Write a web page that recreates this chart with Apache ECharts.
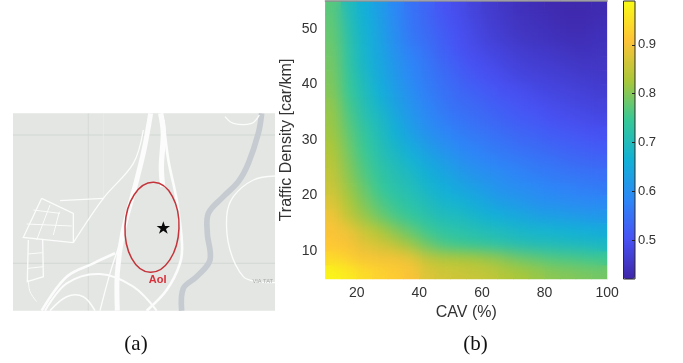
<!DOCTYPE html>
<html><head><meta charset="utf-8">
<style>html,body{margin:0;padding:0;background:#fff}#c{width:683px;height:363px}</style>
<script src="https://cdn.jsdelivr.net/npm/echarts@6/dist/echarts.min.js"></script>
</head><body><div id="c"></div>
<script>
const cavBands=['12.5','17.5','22.5','27.5','32.5','37.5','42.5','47.5','52.5','57.5','62.5','67.5','72.5','77.5','82.5','87.5','92.5','97.5'];
const densityBands=['6.25','8.75','11.25','13.75','16.25','18.75','21.25','23.75','26.25','28.75','31.25','33.75','36.25','38.75','41.25','43.75','46.25','48.75','51.25','53.75'];
const values=[
[.98,.965,.945,.93,.92,.905,.875,.865,.86,.855,.85,.835,.825,.815,.805,.80,.795,.79],
[.94,.925,.905,.90,.90,.885,.85,.835,.83,.825,.815,.80,.785,.775,.765,.76,.755,.75],
[.915,.905,.88,.865,.845,.815,.785,.76,.75,.74,.73,.72,.71,.705,.70,.695,.69,.685],
[.905,.89,.855,.83,.80,.775,.75,.73,.72,.71,.70,.69,.68,.675,.67,.665,.66,.655],
[.895,.85,.815,.785,.76,.74,.72,.70,.695,.68,.665,.655,.645,.635,.63,.625,.62,.615],
[.875,.83,.795,.765,.74,.72,.70,.68,.67,.655,.64,.625,.615,.605,.60,.595,.59,.59],
[.86,.815,.78,.745,.72,.705,.68,.66,.645,.63,.615,.60,.595,.59,.58,.575,.57,.565],
[.85,.805,.765,.735,.71,.69,.665,.645,.625,.61,.60,.59,.58,.57,.565,.56,.555,.55],
[.84,.795,.755,.72,.695,.67,.645,.625,.605,.59,.58,.57,.565,.555,.55,.54,.535,.53],
[.83,.785,.745,.71,.68,.65,.625,.605,.585,.575,.565,.555,.545,.54,.53,.525,.52,.515],
[.82,.775,.735,.70,.665,.63,.605,.585,.57,.56,.55,.54,.53,.525,.515,.51,.505,.50],
[.815,.765,.72,.69,.65,.615,.59,.57,.555,.545,.535,.525,.515,.51,.50,.495,.49,.485],
[.81,.755,.71,.675,.635,.605,.58,.56,.545,.535,.525,.515,.505,.50,.49,.485,.48,.475],
[.80,.745,.70,.66,.625,.595,.57,.55,.535,.525,.51,.50,.495,.485,.48,.475,.47,.465],
[.795,.74,.69,.65,.615,.585,.565,.545,.525,.51,.50,.49,.48,.475,.47,.465,.46,.455],
[.79,.73,.68,.645,.61,.58,.56,.535,.515,.50,.49,.48,.47,.465,.46,.455,.45,.45],
[.785,.725,.675,.64,.60,.57,.55,.525,.505,.49,.48,.47,.46,.455,.45,.445,.44,.445],
[.78,.72,.67,.635,.595,.56,.54,.52,.50,.485,.47,.46,.45,.445,.44,.435,.435,.44],
[.775,.71,.665,.63,.59,.555,.535,.51,.495,.48,.465,.455,.445,.44,.435,.43,.43,.435],
[.77,.70,.66,.625,.585,.55,.53,.505,.49,.475,.46,.45,.44,.435,.43,.425,.425,.43]
];
const colorbarTicks=[.5,.6,.7,.8,.9];
const parula=['#3e26a8','#4852f4','#2d87f7','#12b1d6','#37c897','#abc739','#fec338','#f9fb15'];

const cells=[];
values.forEach((row,j)=>row.forEach((v,i)=>cells.push([i,j,v])));

const sans='"Liberation Sans",Arial,sans-serif', ink='#333';
const road=(pts,w,c)=>({type:'polyline',shape:{points:pts,smooth:.35},style:{stroke:c||'#fbfcfb',lineWidth:w,fill:null,lineCap:'butt'}});
const line=(pts,w,c)=>({type:'polyline',shape:{points:pts},style:{stroke:c||'#fbfcfb',lineWidth:w,fill:null}});

const mapParts=[
 {type:'rect',shape:{x:39,y:40,width:786,height:592},style:{fill:'#e3e6e3'}},
 line([[39,105],[825,105]],2,'#ccd1cd'),line([[39,490],[825,490]],2,'#ccd1cd'),
 line([[265,40],[265,632]],2,'#d0d5d1'),line([[310,40],[310,300]],2,'#eceeec'),
 road([[785,40],[775,100],[745,190],[715,245],[670,290],[625,340],[622,400],[630,480],[590,530],[550,565],[545,632]],17,'#c6cbd1'),
 road([[825,228],[760,240],[700,290],[680,350],[690,450],[730,530],[770,545],[825,548]],4),
 road([[675,50],[700,70],[755,70],[778,45]],4),
 road([[452,40],[432,150],[405,260],[368,400],[352,520],[352,632]],15),
 road([[482,40],[490,100],[484,200],[488,260]],16),
 road([[490,60],[505,180],[530,300],[546,430],[540,490],[500,570],[440,632]],8),
 road([[430,90],[400,190],[310,295],[220,428]],4),
 line([[180,302],[310,295]],4),
 road([[360,430],[330,520],[300,632]],4),
 road([[345,460],[280,490],[200,530],[125,632]],8),
 road([[135,632],[200,550],[300,522],[400,560],[470,632]],6),
 road([[150,632],[200,590],[250,590],[285,632]],5),
 line([[125,295],[70,412],[220,428]],4),line([[125,295],[220,340],[220,428]],4),
 line([[100,330],[180,340]],3),line([[80,372],[215,378]],3),line([[150,315],[110,420]],3),line([[178,335],[160,405]],3),
 line([[85,420],[82,545],[130,530],[128,420]],4),line([[84,462],[128,458]],3),line([[84,505],[130,500]],3),
 road([[85,540],[90,575],[110,605]],3),
 {type:'ellipse',shape:{cx:456,cy:382,rx:81,ry:135},rotation:-0.04,originX:456,originY:382,style:{stroke:'#c5343a',lineWidth:4.5,fill:null}},
 {type:'polygon',shape:{points:[[490,364],[495,378],[510,378],[498,387],[503,401],[490,392],[477,401],[482,387],[470,378],[485,378]]},style:{fill:'#0a0a0a'}},
 {type:'text',x:445,y:432,rotation:1.24,originX:445,originY:432,style:{text:'SVINCOLO VIA RUBATTINO',font:'28px '+sans,fill:'#9c9f9d',textAlign:'center',textVerticalAlign:'middle'}},
 {type:'text',x:473,y:541,style:{text:'AoI',font:'bold 33px '+sans,fill:'#d8303a',textAlign:'center',textVerticalAlign:'middle'}},
 {type:'text',x:788,y:543,style:{text:'VIA TAT',font:'17px '+sans,fill:'#a8aba9',textAlign:'center',textVerticalAlign:'middle'}}
];

const chart=echarts.init(document.getElementById('c'));
chart.setOption({
 animation:false,backgroundColor:'#fff',
 grid:[
  {left:325.4,top:1,width:281.8,height:278,zlevel:2},
  {left:623.5,top:1,width:11.5,height:278,zlevel:2,show:true,borderColor:'#2a2a2a',borderWidth:1,backgroundColor:'transparent'}
 ],
 xAxis:[
  {type:'category',data:cavBands,gridIndex:0,position:'top',zlevel:2,axisLine:{onZero:false,lineStyle:{color:'#8f8f8f',width:1.5}},axisTick:{show:false},axisLabel:{show:false},splitLine:{show:false}},
  {type:'value',min:10,max:100,interval:20,gridIndex:0,position:'bottom',zlevel:2,
   axisLine:{show:false,onZero:false},axisTick:{show:false},splitLine:{show:false},
   axisLabel:{customValues:[20,40,60,80,100],color:ink,fontFamily:sans,fontSize:14,margin:7},
   name:'CAV (%)',nameLocation:'middle',nameGap:24,nameTextStyle:{color:ink,fontFamily:sans,fontSize:16}},
  {type:'value',gridIndex:1,min:0,max:1,show:false}
 ],
 yAxis:[
  {type:'category',data:densityBands,gridIndex:0,position:'right',zlevel:2,axisLine:{onZero:false,lineStyle:{color:'#e4e4e4'}},axisTick:{show:false},axisLabel:{show:false},splitLine:{show:false}},
  {type:'value',min:5,max:55,gridIndex:0,position:'left',zlevel:2,
   axisLine:{show:false,onZero:false},axisTick:{show:false},splitLine:{show:false},
   axisLabel:{customValues:[10,20,30,40,50],color:ink,fontFamily:sans,fontSize:14,margin:8},
   name:'Traffic Density [car/km]',nameLocation:'middle',nameGap:31,nameTextStyle:{color:ink,fontFamily:sans,fontSize:16}},
  {type:'value',min:.42,max:.99,gridIndex:1,position:'right',zlevel:2,
   axisLine:{show:false,onZero:false},splitLine:{show:false},
   axisTick:{show:true,inside:true,length:3,customValues:colorbarTicks,lineStyle:{color:'#222'}},
   axisLabel:{customValues:colorbarTicks,formatter:v=>v.toFixed(1),color:ink,fontFamily:sans,fontSize:13,margin:3}}
 ],
 visualMap:{type:'continuous',min:.42,max:.99,seriesIndex:[0,1],calculable:false,show:true,left:623.5,top:1,padding:0,itemWidth:11.5,itemHeight:278,text:['',''],showLabel:false,inRange:{color:parula},hoverLink:false},
 series:[
  {type:'heatmap',name:'base',data:cells,xAxisIndex:0,yAxisIndex:0,progressive:0,itemStyle:{borderWidth:0}},
  {type:'heatmap',name:'smooth',data:cells,xAxisIndex:0,yAxisIndex:0,zlevel:1,progressive:0,itemStyle:{borderWidth:0}}
 ],
 graphic:[
  {type:'group',x:0,y:100,scaleX:1/3,scaleY:1/3,children:mapParts},
  {type:'text',x:136,y:344,style:{text:'(a)',font:'21px "Liberation Serif",serif',fill:'#111',textAlign:'center',textVerticalAlign:'middle'}},
  {type:'text',x:475.5,y:344,style:{text:'(b)',font:'21px "Liberation Serif",serif',fill:'#111',textAlign:'center',textVerticalAlign:'middle'}}
 ]
});
function soften(){
 const cv=document.querySelector('canvas[data-zr-dom-id="zr_1"]');
 if(cv){cv.style.filter='blur(7px)';cv.style.clipPath='inset(1px 76px 84px 325.4px)';}
}
soften();chart.on('finished',soften);
document.getElementById('c').style.filter='blur(0.35px)';
</script></body></html>
